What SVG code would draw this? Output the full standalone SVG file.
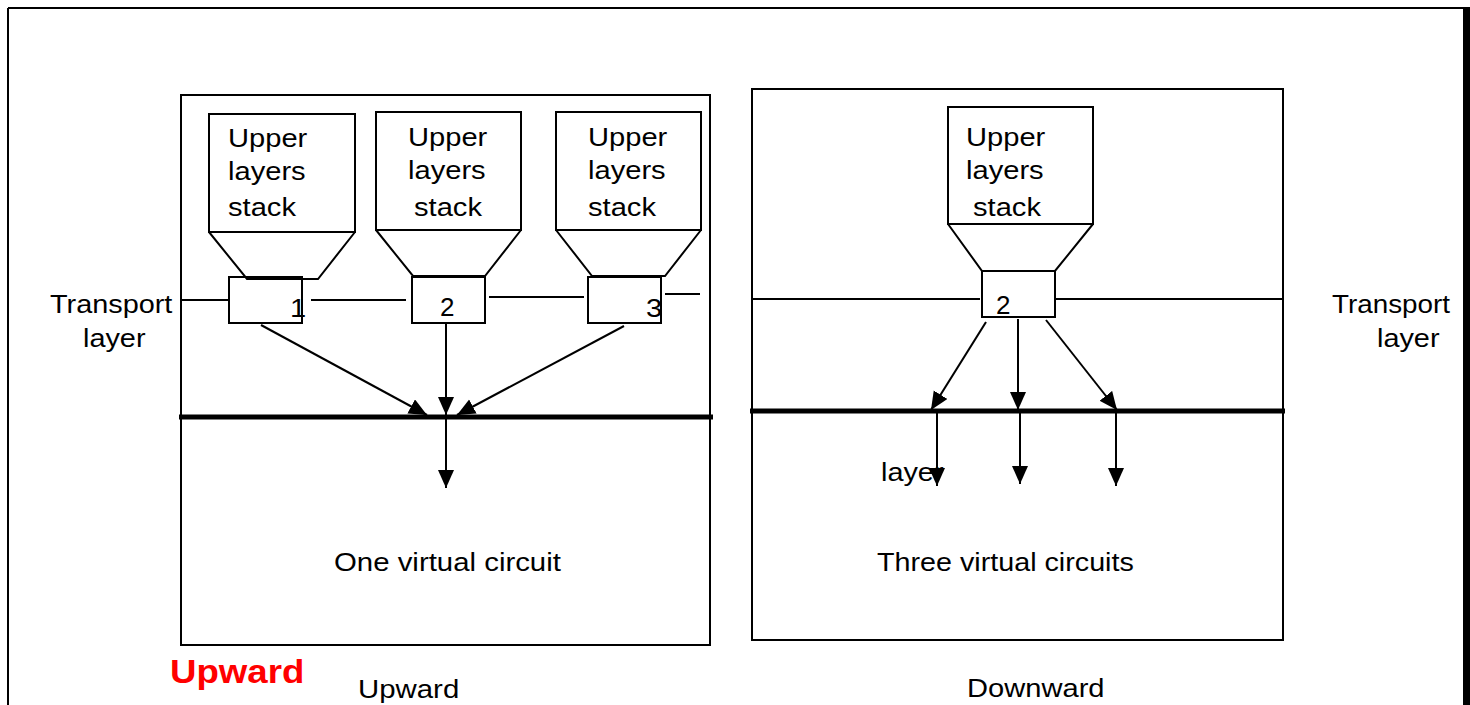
<svg xmlns="http://www.w3.org/2000/svg" width="1470" height="705" viewBox="0 0 1470 705">
<style>
.ln{stroke:#000;stroke-width:2;fill:none}
.thick{stroke:#000;stroke-width:5}
.t{font-family:"Liberation Sans",Arial,sans-serif;font-size:26px;fill:#000}
.d{font-family:"Liberation Sans",Arial,sans-serif;font-size:26px;fill:#000}
.r{font-family:"Liberation Sans",Arial,sans-serif;font-size:33px;font-weight:bold;fill:#ff0000}
</style>
<defs>
<marker id="ah" markerUnits="userSpaceOnUse" markerWidth="20" markerHeight="18" refX="18" refY="8" orient="auto">
<path d="M0,0 L18,8 L0,16 z" fill="#000"/>
</marker>
</defs>
<rect width="1470" height="705" fill="#fff"/>
<g id="frame">
<line class="ln" x1="8" y1="8" x2="1464" y2="8"/>
<line class="ln" x1="8" y1="8" x2="8" y2="705"/>
<rect x="1463" y="7" width="7" height="698" fill="#000"/>
</g>
<g id="panel-left">
<rect class="ln" x="181" y="95" width="529" height="550"/>
<line class="thick" x1="179" y1="417" x2="713" y2="417"/>
</g>
<g id="panel-right">
<rect class="ln" x="752" y="89" width="531" height="551"/>
<line class="thick" x1="750" y1="411" x2="1285" y2="411"/>
</g>
<g id="transport-lines">
<line class="ln" x1="181" y1="300" x2="229" y2="300"/>
<line class="ln" x1="311" y1="300" x2="406" y2="300"/>
<line class="ln" x1="489" y1="297" x2="584" y2="297"/>
<line class="ln" x1="665" y1="294" x2="700" y2="294"/>
<line class="ln" x1="752" y1="299" x2="980" y2="299"/>
<line class="ln" x1="1055" y1="299" x2="1283" y2="299"/>
</g>
<g id="stack1">
<rect class="ln" x="209" y="114" width="146" height="118"/>
<polyline class="ln" points="209,232 247,279 318,279 355,232"/>
<rect class="ln" x="229" y="277" width="73" height="46"/>
<text class="t" transform="translate(228,147) scale(1.12,1)">Upper</text>
<text class="t" transform="translate(228,180) scale(1.12,1)">layers</text>
<text class="t" transform="translate(228,216) scale(1.12,1)">stack</text>
<text class="t" transform="translate(290,317) scale(1.12,1)">1</text>
</g>
<g id="stack2">
<rect class="ln" x="376" y="112" width="145" height="118"/>
<polyline class="ln" points="376,230 413,276 485,276 521,230"/>
<rect class="ln" x="412" y="277" width="73" height="46"/>
<text class="t" transform="translate(408,146) scale(1.12,1)">Upper</text>
<text class="t" transform="translate(408,179) scale(1.12,1)">layers</text>
<text class="t" transform="translate(414,216) scale(1.12,1)">stack</text>
<text class="d" x="440" y="316">2</text>
</g>
<g id="stack3">
<rect class="ln" x="556" y="112" width="145" height="118"/>
<polyline class="ln" points="556,230 592,276 665,276 701,230"/>
<rect class="ln" x="588" y="277" width="73" height="46"/>
<text class="t" transform="translate(588,146) scale(1.12,1)">Upper</text>
<text class="t" transform="translate(588,179) scale(1.12,1)">layers</text>
<text class="t" transform="translate(588,216) scale(1.12,1)">stack</text>
<text class="t" transform="translate(646,317) scale(1.12,1)">3</text>
</g>
<g id="stack-right">
<rect class="ln" x="948" y="107" width="145" height="117"/>
<polyline class="ln" points="948,224 982,271 1055,271 1093,224"/>
<rect class="ln" x="982" y="271" width="73" height="46"/>
<text class="t" transform="translate(966,146) scale(1.12,1)">Upper</text>
<text class="t" transform="translate(966,179) scale(1.12,1)">layers</text>
<text class="t" transform="translate(973,216) scale(1.12,1)">stack</text>
<text class="d" x="996" y="314">2</text>
</g>
<g id="connectors">
<line class="ln" x1="261" y1="325" x2="427" y2="415" marker-end="url(#ah)"/>
<line class="ln" x1="446" y1="323" x2="446" y2="415" marker-end="url(#ah)"/>
<line class="ln" x1="624" y1="326" x2="457" y2="415" marker-end="url(#ah)"/>
<line class="ln" x1="446" y1="417" x2="446" y2="488" marker-end="url(#ah)"/>
<line class="ln" x1="986" y1="322" x2="931" y2="410" marker-end="url(#ah)"/>
<line class="ln" x1="1018" y1="319" x2="1018" y2="410" marker-end="url(#ah)"/>
<line class="ln" x1="1046" y1="320" x2="1117" y2="410" marker-end="url(#ah)"/>
<line class="ln" x1="937" y1="412" x2="937" y2="486" marker-end="url(#ah)"/>
<line class="ln" x1="1020" y1="412" x2="1020" y2="484" marker-end="url(#ah)"/>
<line class="ln" x1="1116" y1="412" x2="1116" y2="486" marker-end="url(#ah)"/>
</g>
<g id="labels">
<text class="t" transform="translate(50,313) scale(1.11,1)">Transport</text>
<text class="t" transform="translate(83,347) scale(1.11,1)">layer</text>
<text class="t" transform="translate(1332,313) scale(1.07,1)">Transport</text>
<text class="t" transform="translate(1377,347) scale(1.11,1)">layer</text>
<text class="t" transform="translate(881,481) scale(1.11,1)">layer</text>
<text class="t" transform="translate(334,571) scale(1.13,1)">One virtual circuit</text>
<text class="t" transform="translate(877,571) scale(1.105,1)">Three virtual circuits</text>
<text class="r" transform="translate(170,683) scale(1.11,1)">Upward</text>
<text class="t" transform="translate(358,698) scale(1.13,1)">Upward</text>
<text class="t" transform="translate(967,697) scale(1.12,1)">Downward</text>
</g>
</svg>
